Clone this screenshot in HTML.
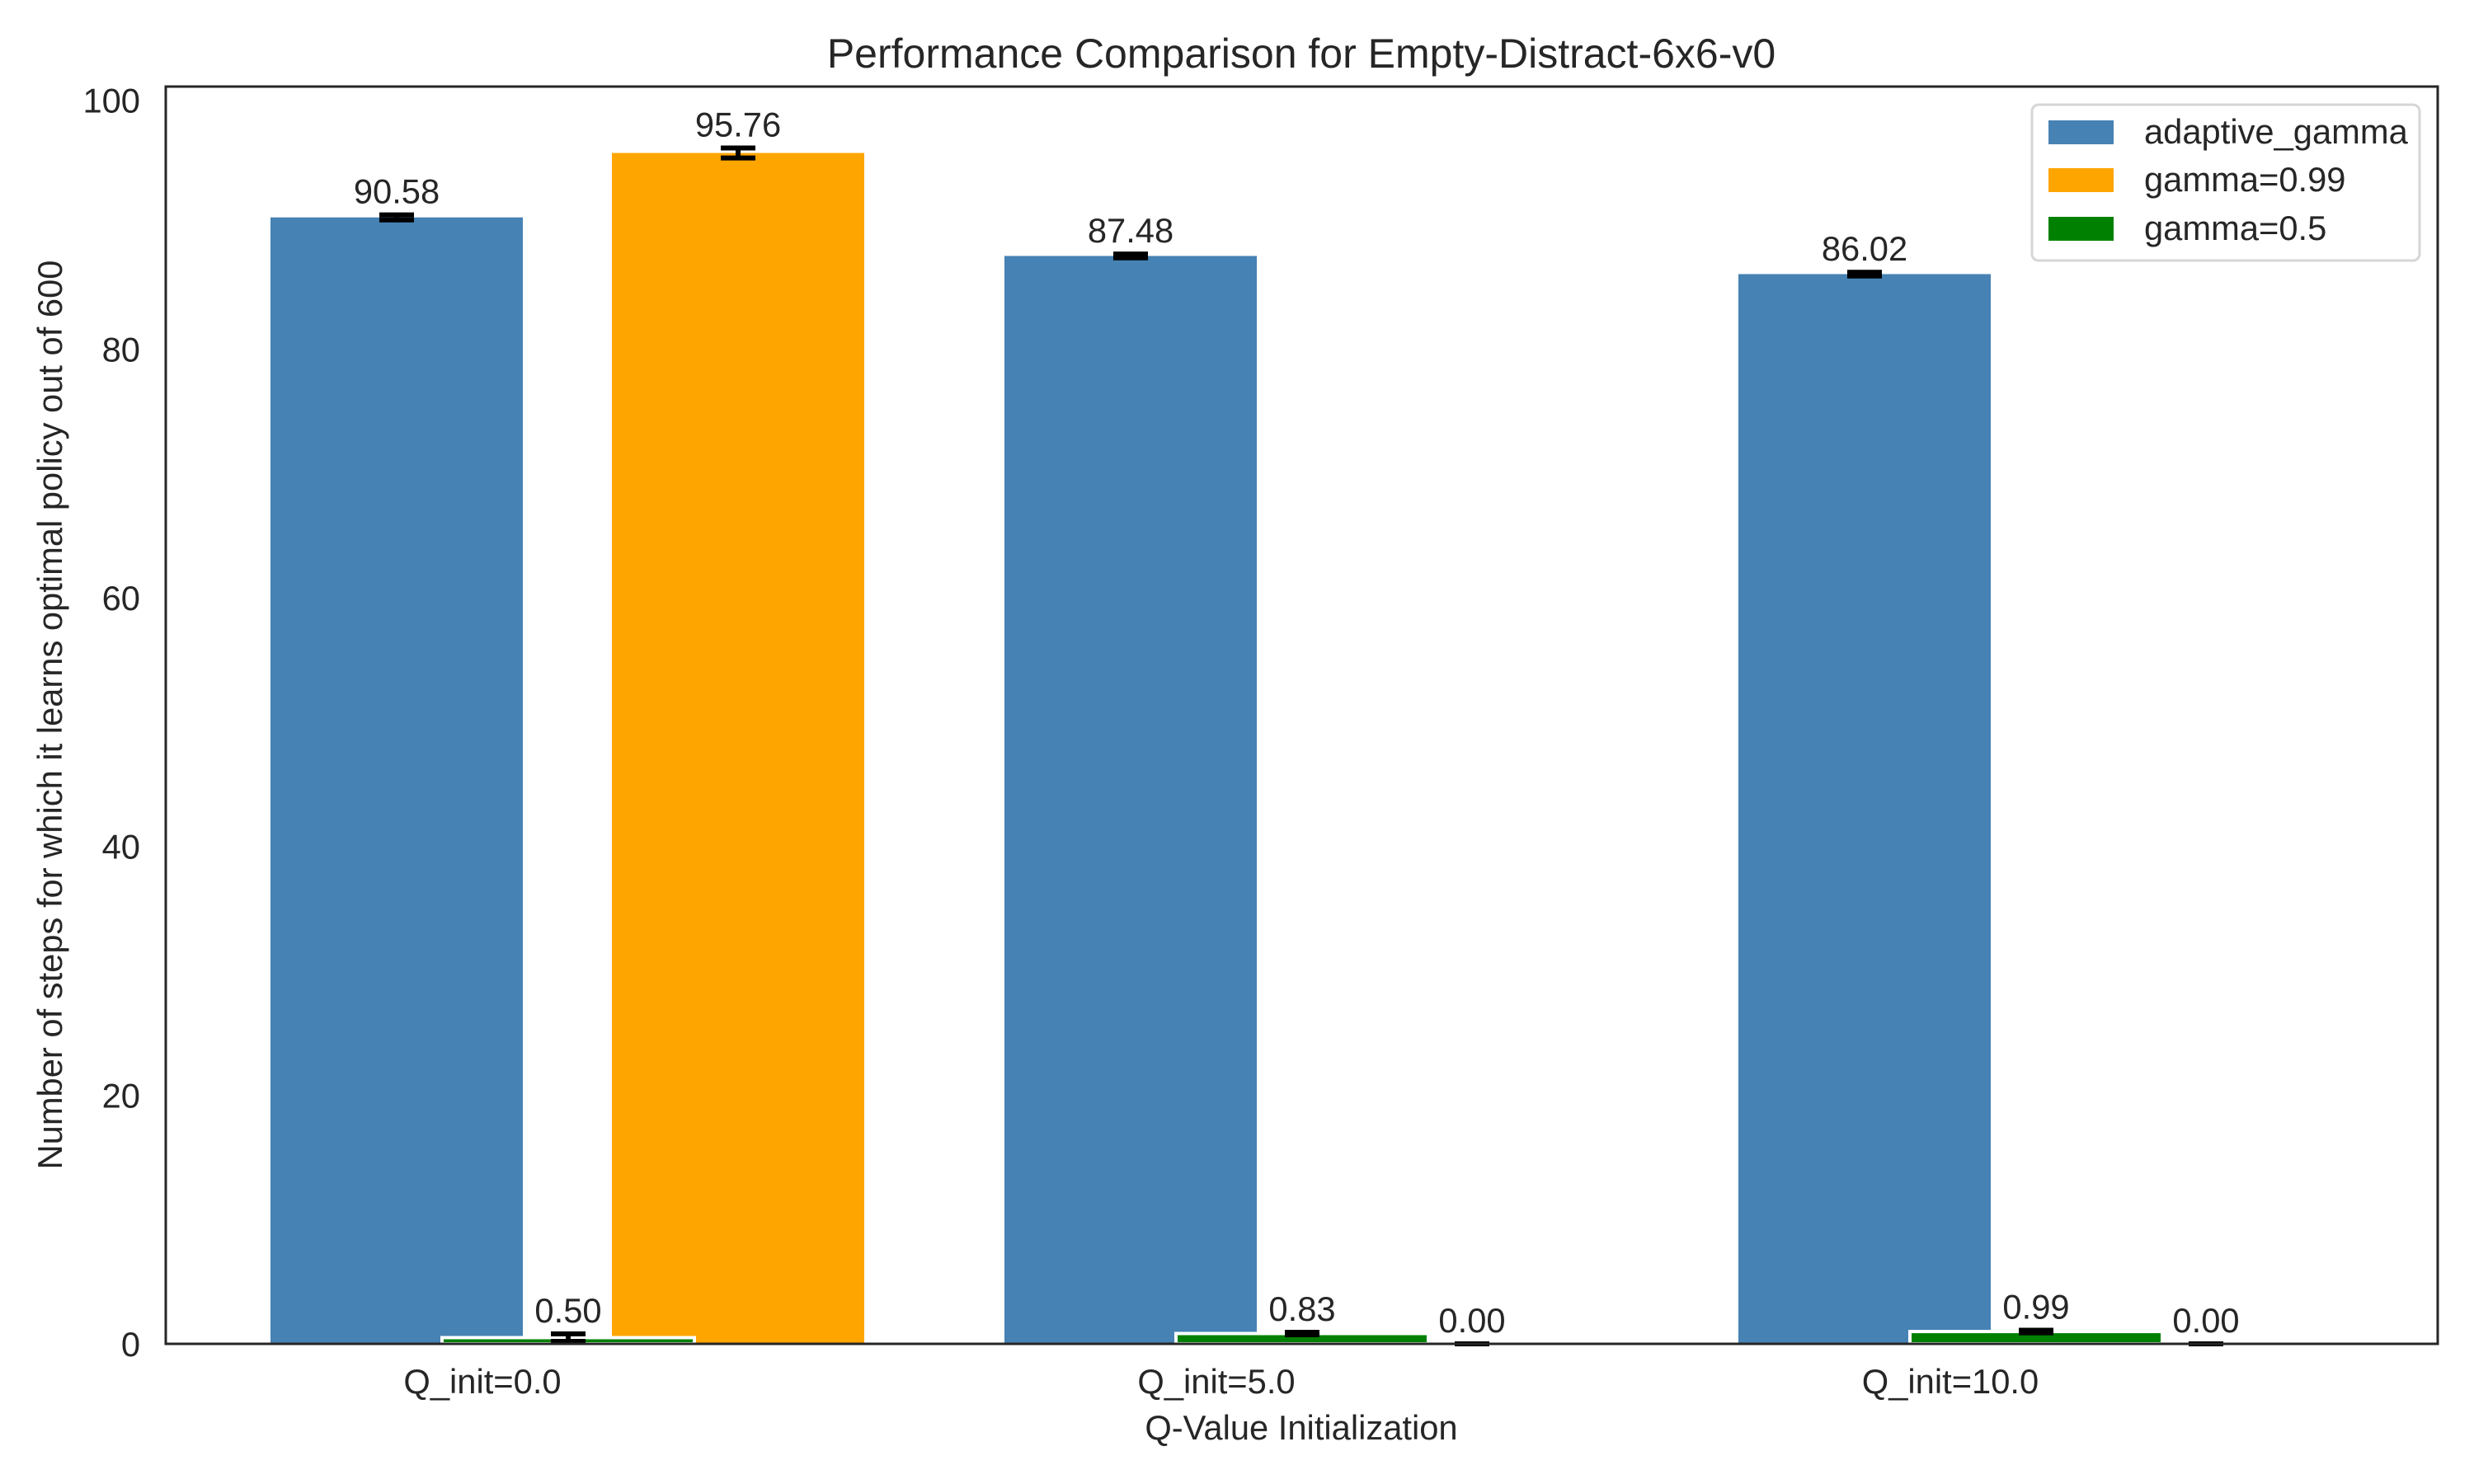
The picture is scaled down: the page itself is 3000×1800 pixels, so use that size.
<!DOCTYPE html>
<html><head><meta charset="utf-8">
<style>
html,body{margin:0;padding:0;background:#fff;}
svg{display:block;font-family:"Liberation Sans",Arial,sans-serif;}
</style></head>
<body>
<svg id="chart" width="3000" height="1800" viewBox="0 0 3000 1800" xmlns="http://www.w3.org/2000/svg">
<rect width="3000" height="1800" fill="#fff"/>
<text x="1578" y="82" font-size="50" fill="#262626" text-anchor="middle">Performance Comparison for Empty-Distract-6x6-v0</text>
<g id="bars"></g>
<g id="overlays"></g>
<g id="yticks"></g>
<g id="xticks"></g>
<rect x="201" y="105" width="2755" height="1525" fill="none" stroke="#262626" stroke-width="3"/>
<text x="1578" y="1746" font-size="41.7" fill="#262626" text-anchor="middle">Q-Value Initialization</text>
<text transform="translate(75,867) rotate(-90)" font-size="41.7" fill="#262626" text-anchor="middle">Number of steps for which it learns optimal policy out of 600</text>
<g>
<rect x="2464" y="127" width="470" height="189" rx="8" fill="#fff" stroke="#d6d6d6" stroke-width="3"/>
<g><rect x="2484" y="146" width="79" height="29" fill="#4682b4"/><text x="2600" y="174" font-size="41.7" fill="#262626">adaptive_gamma</text></g>
<g><rect x="2484" y="204" width="79" height="29" fill="#ffa500"/><text x="2600" y="232" font-size="41.7" fill="#262626">gamma=0.99</text></g>
<g><rect x="2484" y="263" width="79" height="29" fill="#008000"/><text x="2600" y="291" font-size="41.7" fill="#262626">gamma=0.5</text></g>
</g>
</svg>
<script>
const categories = ["Q_init=0.0", "Q_init=5.0", "Q_init=10.0"];
const adaptiveValues = [90.58, 87.48, 86.02];
const adaptiveErrors = [0.2, 0.15, 0.15];
const gamma99Values = [95.76, 0.00, 0.00];
const gamma99Errors = [0.4, 0.0, 0.0];
const gamma05Values = [0.50, 0.83, 0.99];
const gamma05Errors = [0.3, 0.1, 0.1];
const yTicks = [0, 20, 40, 60, 80, 100];

const NS = "http://www.w3.org/2000/svg";
const Y0 = 1630, YMAX = 101.1, PXU = (1630 - 105) / YMAX;
function yScale(v){ return Y0 - v * PXU; }
function xScale(i){ return 585 + i * 890; }
const BW = 306;
function mk(tag, attrs, parent){ const e = document.createElementNS(NS, tag); for (const k in attrs) e.setAttribute(k, attrs[k]); parent.appendChild(e); return e; }

const barsG = document.getElementById("bars");
const ovG = document.getElementById("overlays");
const series = [
  {name:"adaptive-gamma", vals:adaptiveValues, errs:adaptiveErrors, color:"#4682b4", off:-104, edge:false},
  {name:"gamma-0.99", vals:gamma99Values, errs:gamma99Errors, color:"#ffa500", off:310, edge:false},
  {name:"gamma-0.5", vals:gamma05Values, errs:gamma05Errors, color:"#008000", off:104, edge:true}
];
series.forEach(s => {
  s.vals.forEach((v, i) => {
    const cx = xScale(i) + s.off;
    const top = yScale(v);
    const r = mk("rect", {x: cx - BW/2, y: top, width: BW, height: Math.max(Y0 - top, 0), fill: s.color}, barsG);
    if (s.edge) { r.setAttribute("stroke", "#fff"); r.setAttribute("stroke-width", "4"); }
    
    
    const e = s.errs[i];
    const yt = yScale(v + e), yb = yScale(v - e);
    const eg = mk("g", {stroke: "#000", "stroke-width": 6}, ovG);
    
    
    mk("line", {x1: cx, x2: cx, y1: yt, y2: yb}, eg);
    mk("line", {x1: cx - 21, x2: cx + 21, y1: yt, y2: yt}, eg);
    mk("line", {x1: cx - 21, x2: cx + 21, y1: yb, y2: yb}, eg);
    const t = mk("text", {x: cx, y: yt - 14, "font-size": 41.7, fill: "#262626", "text-anchor": "middle"}, ovG);
    t.textContent = v.toFixed(2);
    
    
  });
});

const yg = document.getElementById("yticks");
yTicks.forEach(v => {
  const t = mk("text", {x: 170, y: yScale(v) + 15, "font-size": 41.7, fill: "#262626", "text-anchor": "end"}, yg);
  t.textContent = v;
  
  
});
const xg = document.getElementById("xticks");
categories.forEach((c, i) => {
  const t = mk("text", {x: xScale(i), y: 1690, "font-size": 41.7, fill: "#262626", "text-anchor": "middle"}, xg);
  t.textContent = c;
  
  
});
</script>
</body></html>
